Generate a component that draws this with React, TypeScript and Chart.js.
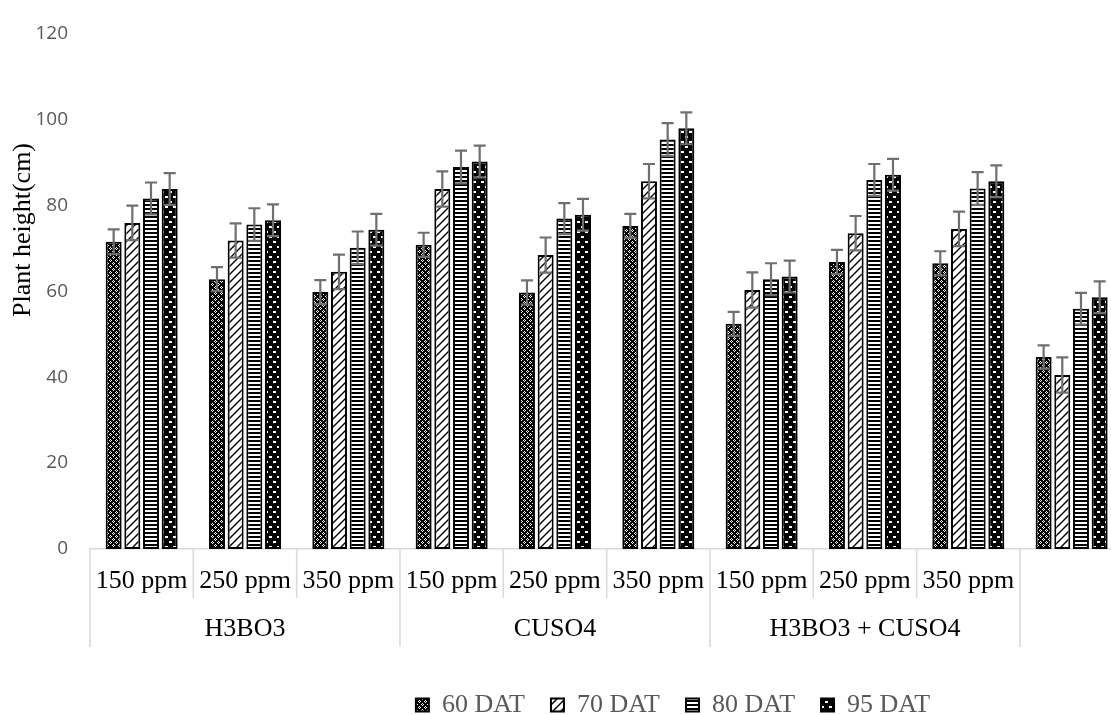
import React, { useEffect, useRef } from "react";
import { Chart, registerables } from "chart.js";

Chart.register(...registerables);

const tickLabels = ["150 ppm", "250 ppm", "350 ppm", "150 ppm", "250 ppm", "350 ppm", "150 ppm", "250 ppm", "350 ppm", ""];
const groupLabels = ["H3BO3", "CUSO4", "H3BO3 + CUSO4"];
const seriesNames = ["60 DAT", "70 DAT", "80 DAT", "95 DAT"];

const dat60 = [71.5, 62.8, 59.8, 70.8, 59.7, 75.2, 52.4, 66.8, 66.5, 44.7];
const dat70 = [75.9, 71.8, 64.5, 83.8, 68.4, 85.6, 60.3, 73.5, 74.5, 40.5];
const dat80 = [81.6, 75.5, 70.1, 88.9, 76.9, 95.3, 62.8, 85.9, 83.9, 55.9];
const dat95 = [83.8, 76.5, 74.3, 90.2, 77.8, 97.9, 63.4, 87.1, 85.6, 58.6];

const err60 = [2.9, 2.8, 2.8, 2.8, 2.8, 2.8, 2.8, 2.8, 2.8, 2.7];
const err70 = [4.0, 4.0, 4.0, 4.1, 4.1, 4.0, 4.1, 4.0, 4.0, 4.1];
const err80 = [3.7, 3.8, 3.8, 3.8, 3.6, 3.8, 3.7, 3.7, 3.8, 3.7];
const err95 = [3.7, 3.7, 3.7, 3.7, 3.7, 3.7, 3.7, 3.7, 3.7, 3.7];

const yTicksMin = 0;
const yTicksMax = 120;
const yTicksStep = 20;

const SERIF = '"Liberation Serif", "Times New Roman", serif';
const SANS = '"Open Sans", sans-serif';

function makePattern(kind: string): CanvasPattern | string {
  const c = document.createElement("canvas");
  const x = c.getContext("2d")!;
  if (kind === "checker") {
    c.width = 6; c.height = 6;
    x.fillStyle = "#000"; x.fillRect(0, 0, 6, 6);
    x.fillStyle = "#fff";
    [[2, 1], [1, 2], [3, 2], [2, 3], [5, 4], [4, 5], [0, 5], [5, 0]].forEach(([a, b]) => x.fillRect(a, b, 1, 1));
  } else if (kind === "diag") {
    c.width = 8; c.height = 8;
    x.fillStyle = "#fff"; x.fillRect(0, 0, 8, 8);
    x.strokeStyle = "#000"; x.lineWidth = 1.4;
    x.beginPath();
    x.moveTo(-1, 9); x.lineTo(9, -1);
    x.moveTo(-1, 1); x.lineTo(1, -1);
    x.moveTo(7, 9); x.lineTo(9, 7);
    x.stroke();
  } else if (kind === "horiz") {
    c.width = 4; c.height = 4;
    x.fillStyle = "#fff"; x.fillRect(0, 0, 4, 4);
    x.fillStyle = "#000"; x.fillRect(0, 0, 4, 2);
  } else {
    c.width = 8; c.height = 10;
    x.fillStyle = "#000"; x.fillRect(0, 0, 8, 10);
    x.fillStyle = "#fff";
    x.fillRect(1, 1, 3, 2);
    x.fillRect(5, 6, 3, 2);
  }
  const p = x.createPattern(c, "repeat");
  return p || "#000";
}

export default function App() {
  const ref = useRef<HTMLCanvasElement | null>(null);

  useEffect(() => {
    const canvas = ref.current!;
    const values = [dat60, dat70, dat80, dat95];
    const errors = [err60, err70, err80, err95];
    const patterns = [makePattern("checker"), makePattern("diag"), makePattern("horiz"), makePattern("dash")];

    const errorBars = {
      id: "errorBars",
      afterDatasetsDraw(chart: any) {
        const ctx = chart.ctx;
        const y = chart.scales.y;
        ctx.save();
        ctx.strokeStyle = "#6f6f6f";
        ctx.lineWidth = 2.2;
        chart.data.datasets.forEach((ds: any, i: number) => {
          const meta = chart.getDatasetMeta(i);
          meta.data.forEach((el: any, j: number) => {
            const v = values[i][j];
            const e = errors[i][j];
            const top = y.getPixelForValue(v + e);
            const bot = y.getPixelForValue(v - e);
            ctx.beginPath();
            ctx.moveTo(el.x, top); ctx.lineTo(el.x, bot);
            ctx.moveTo(el.x - 6, top); ctx.lineTo(el.x + 6, top);
            ctx.moveTo(el.x - 6, bot); ctx.lineTo(el.x + 6, bot);
            ctx.stroke();
          });
        });
        ctx.restore();
      },
    };

    const decorations = {
      id: "decorations",
      afterLayout(chart: any) {
        const lg = chart.legend;
        if (lg) {
          const w = lg.right - lg.left;
          const h = lg.bottom - lg.top;
          const centerX = 673;
          lg.left = centerX - w / 2;
          lg.right = lg.left + w;
          lg.top = 666;
          lg.bottom = lg.top + h;
        }
      },
      afterDraw(chart: any) {
        const ctx = chart.ctx;
        const xs = chart.scales.x;
        const area = chart.chartArea;
        const n = tickLabels.length;
        const w = (xs.right - xs.left) / n;
        const axisY = area.bottom;
        ctx.save();
        ctx.strokeStyle = "#d9d9d9";
        ctx.lineWidth = 1.5;
        for (let i = 0; i <= n; i++) {
          const bx = xs.left + i * w;
          const long = i % 3 === 0;
          ctx.beginPath();
          ctx.moveTo(bx, axisY);
          ctx.lineTo(bx, axisY + (long ? 98 : 49));
          ctx.stroke();
        }
        ctx.fillStyle = "#000";
        ctx.font = `26px ${SERIF}`;
        ctx.textAlign = "center";
        ctx.textBaseline = "middle";
        groupLabels.forEach((g, k) => {
          ctx.fillText(g, xs.left + (k * 3 + 1.5) * w, axisY + 80);
        });
        ctx.translate(23, 230);
        ctx.rotate(-Math.PI / 2);
        ctx.fillText("Plant height(cm)", 0, 0);
        ctx.restore();
      },
    };

    const chart = new Chart(canvas, {
      type: "bar",
      data: {
        labels: tickLabels,
        datasets: seriesNames.map((name, i) => ({
          label: name,
          data: values[i],
          backgroundColor: patterns[i] as any,
          borderColor: "#000",
          borderWidth: 2,
          borderSkipped: false,
          categoryPercentage: 0.723,
          barPercentage: 0.856,
        })),
      },
      options: {
        responsive: false,
        animation: false,
        layout: { padding: { left: 0, right: 4.7, top: 21, bottom: 6 } },
        plugins: {
          legend: {
            position: "bottom",
            labels: {
              font: { family: SERIF, size: 26 },
              color: "#595959",
              boxWidth: 13,
              boxHeight: 13,
              padding: 26,
            },
          },
          tooltip: { enabled: false },
        },
        scales: {
          x: {
            grid: { display: false, drawTicks: false },
            border: { display: true, color: "#d9d9d9", width: 1.5 },
            ticks: {
              font: { family: SERIF, size: 26 },
              color: "#000",
              padding: 17,
              maxRotation: 0,
              autoSkip: false,
            },
            afterFit(scale: any) { scale.height = 98; },
          },
          y: {
            min: yTicksMin,
            max: yTicksMax,
            grid: { display: false, drawTicks: false },
            border: { display: false },
            ticks: {
              stepSize: yTicksStep,
              font: { family: SANS, size: 19 },
              color: "#595959",
              padding: 22,
            },
            afterFit(scale: any) { scale.width = 90; },
          },
        },
      },
      plugins: [errorBars, decorations],
    });
    return () => chart.destroy();
  }, []);

  return (
    <div style={{ position: "fixed", left: 0, top: 0, width: 1111, height: 715, overflow: "hidden", background: "#fff" }}>
      <canvas ref={ref} width={1128} height={715} style={{ display: "block" }} />
    </div>
  );
}
